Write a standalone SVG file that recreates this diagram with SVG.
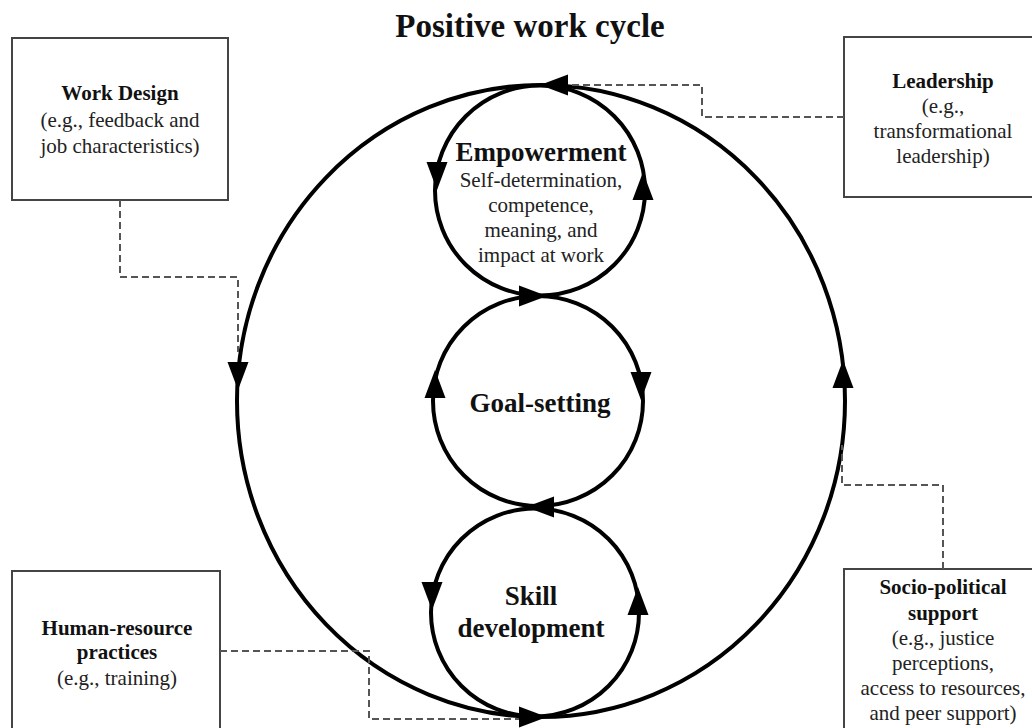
<svg xmlns="http://www.w3.org/2000/svg" xmlns:xlink="http://www.w3.org/1999/xlink" width="1032" height="728" viewBox="0 0 1032 728">
  <style>
    .box { fill: #fff; stroke: #444; stroke-width: 2; }
    .loop { fill: none; stroke: #000; stroke-width: 4; }
    .dash { fill: none; stroke: #555; stroke-width: 2; stroke-dasharray: 7 4; }
    text { font-family: "Liberation Serif", "Times New Roman", serif; text-anchor: middle; fill: #222; }
    .t { font-size: 21px; }
    .b { font-size: 21px; font-weight: bold; fill: #111; }
    .big { font-size: 27px; font-weight: bold; fill: #111; }
    .title { font-size: 33px; font-weight: bold; fill: #111; }
  </style>
  <defs>
    <!-- arrowhead pointing along +x, tip at origin -->
    <path id="ah" d="M0,0 L-28,-10.5 L-28,10.5 Z" fill="#000"/>
  </defs>
  <rect width="1032" height="728" fill="#fff"/>

  <g id="title">
    <text class="title" x="530" y="37">Positive work cycle</text>
  </g>

  <g id="work-cycle">
    <ellipse class="loop" cx="541" cy="401" rx="304" ry="316"/>
  </g>

  <g id="empowerment">
    <circle class="loop" cx="540" cy="190.5" r="105"/>
    <text class="big" x="541" y="161">Empowerment</text>
    <text class="t" x="541" y="187">Self-determination,</text>
    <text class="t" x="541" y="212">competence,</text>
    <text class="t" x="541" y="237">meaning, and</text>
    <text class="t" x="541" y="262">impact at work</text>
  </g>

  <g id="goal-setting">
    <circle class="loop" cx="538" cy="401" r="105"/>
    <text class="big" x="540" y="412">Goal-setting</text>
  </g>

  <g id="skill-development">
    <circle class="loop" cx="535" cy="612.5" r="104"/>
    <text class="big" x="531" y="605">Skill</text>
    <text class="big" x="531" y="637">development</text>
  </g>

  <g id="work-design">
    <rect class="box" x="12" y="38" width="216" height="162"/>
    <text class="b" x="120" y="100">Work Design</text>
    <text class="t" x="120" y="127">(e.g., feedback and</text>
    <text class="t" x="120" y="153">job characteristics)</text>
  </g>

  <g id="leadership">
    <rect class="box" x="844" y="37" width="200" height="160"/>
    <text class="b" x="943" y="88">Leadership</text>
    <text class="t" x="943" y="113">(e.g.,</text>
    <text class="t" x="943" y="138">transformational</text>
    <text class="t" x="943" y="163">leadership)</text>
  </g>

  <g id="hr-practices">
    <rect class="box" x="12" y="571" width="208" height="170"/>
    <text class="b" x="117" y="635">Human-resource</text>
    <text class="b" x="117" y="659">practices</text>
    <text class="t" x="117" y="685">(e.g., training)</text>
  </g>

  <g id="socio-political">
    <rect class="box" x="844" y="569" width="200" height="170"/>
    <text class="b" x="943" y="594">Socio-political</text>
    <text class="b" x="943" y="620">support</text>
    <text class="t" x="943" y="645">(e.g., justice</text>
    <text class="t" x="943" y="670">perceptions,</text>
    <text class="t" x="943" y="695">access to resources,</text>
    <text class="t" x="943" y="720">and peer support)</text>
  </g>

  <g id="connectors">
    <!-- dashed links from each antecedent to the outer cycle -->
    <path class="dash" d="M120,200 V277 H238 V352"/>
    <path class="dash" d="M844,117 H702 V85 H565"/>
    <path class="dash" d="M220,651 H369 V719 H520"/>
    <path class="dash" d="M943,569 V485 H842 V445"/>

    <!-- direction arrows along the loops -->
    <use xlink:href="#ah" transform="translate(540,85) rotate(180)"/>
    <use xlink:href="#ah" transform="translate(547,296) rotate(0)"/>
    <use xlink:href="#ah" transform="translate(526,507) rotate(180)"/>
    <use xlink:href="#ah" transform="translate(547,717) rotate(0)"/>
    <use xlink:href="#ah" transform="translate(238,390) rotate(90)"/>
    <use xlink:href="#ah" transform="translate(843,360) rotate(-90)"/>
    <use xlink:href="#ah" transform="translate(437,190) rotate(90)"/>
    <use xlink:href="#ah" transform="translate(643,172) rotate(-90)"/>
    <use xlink:href="#ah" transform="translate(641,400) rotate(90)"/>
    <use xlink:href="#ah" transform="translate(435,370) rotate(-90)"/>
    <use xlink:href="#ah" transform="translate(432,610) rotate(90)"/>
    <use xlink:href="#ah" transform="translate(638,587) rotate(-90)"/>
  </g>
</svg>
